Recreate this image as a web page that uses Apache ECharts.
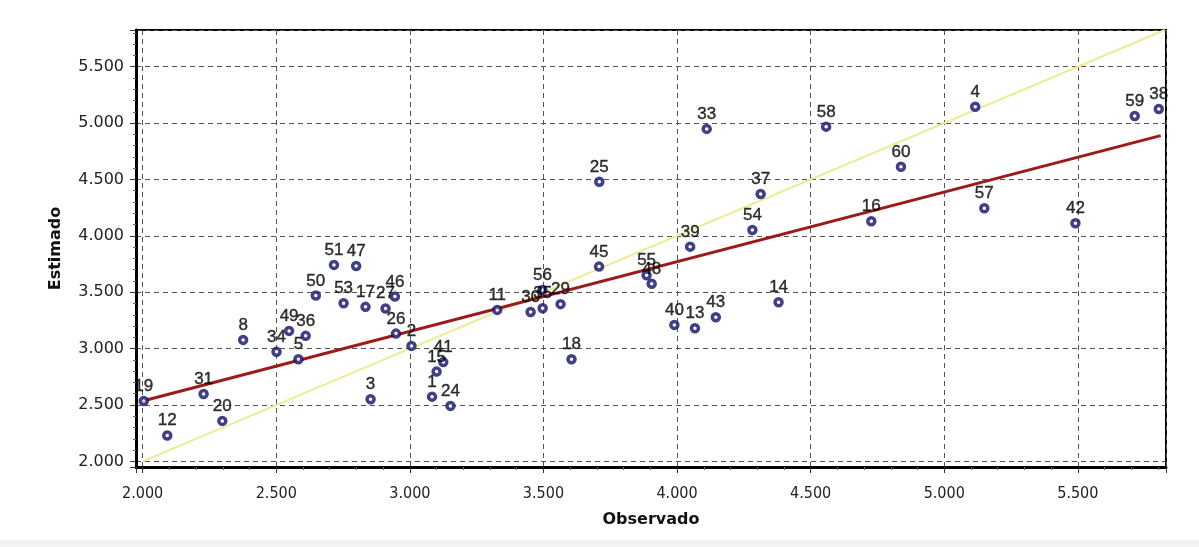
<!DOCTYPE html>
<html>
<head>
<meta charset="utf-8">
<style>
  html, body { margin: 0; padding: 0; background: #fff; }
  #chart { width: 1199px; height: 547px; }
</style>
<script src="https://cdn.jsdelivr.net/npm/echarts@6/dist/echarts.min.js"></script>
</head>
<body>
<div id="chart"></div>
<script>
// point numbers, observed (x) and estimated (y) values
var pointIds = [19, 12, 31, 20, 8, 34, 49, 36, 5, 50, 53, 17, 27, 46, 51, 47, 3, 26, 2, 15,
	41, 1, 24, 11, 30, 56, 35, 29, 18, 45, 55, 48, 40, 13, 43, 39, 54, 25, 33, 58,
	60, 37, 16, 14, 4, 59, 38, 57, 42];
var observado = [2.004, 2.092, 2.228, 2.298, 2.376, 2.501, 2.548, 2.610, 2.583, 2.648,
	2.752, 2.834, 2.909, 2.944, 2.716, 2.799, 2.853, 2.948, 3.006, 3.100,
	3.125, 3.083, 3.152, 3.327, 3.452, 3.496, 3.497, 3.564, 3.605, 3.708,
	3.886, 3.905, 3.990, 4.067, 4.145, 4.049, 4.282, 3.709, 4.111, 4.558,
	4.838, 4.313, 4.727, 4.380, 5.116, 5.713, 5.803, 5.150, 5.491];
var estimado = [2.536, 2.229, 2.598, 2.359, 3.077, 2.971, 3.157, 3.113, 2.906, 3.470,
	3.402, 3.370, 3.355, 3.461, 3.742, 3.733, 2.551, 3.133, 3.024, 2.796,
	2.880, 2.574, 2.492, 3.343, 3.325, 3.520, 3.358, 3.394, 2.906, 3.727,
	3.650, 3.575, 3.210, 3.181, 3.278, 3.904, 4.052, 4.480, 4.948, 4.968,
	4.613, 4.371, 4.129, 3.411, 5.145, 5.063, 5.125, 4.245, 4.112];

// regression line and 1:1 line end points
var ajusteX = [2.0, 5.81];
var ajusteY = [2.535, 4.888];
var identX = [2.0, 5.825];
var identY = [2.0, 5.825];

var myChart = echarts.init(document.getElementById('chart'));

function pairs(xs, ys) {
	var out = [];
	for (var i = 0; i < xs.length; i++) {
		out.push([xs[i], ys[i]]);
	}
	return out;
}

var pontos = [];
for (var i = 0; i < pointIds.length; i++) {
	pontos.push([observado[i], estimado[i], pointIds[i]]);
}

function axisCommon(min, max) {
	return {
		type: 'value',
		min: min,
		max: max,
		splitNumber: 8,
		axisLine: {
			show: true,
			onZero: false,
			lineStyle: { color: '#000', width: 3 }
		},
		axisTick: {
			show: true,
			length: 6,
			lineStyle: { color: '#333', width: 1 }
		},
		minorTick: {
			show: true,
			splitNumber: 5,
			length: 3,
			lineStyle: { color: '#666', width: 1 }
		},
		splitLine: {
			show: true,
			lineStyle: { color: '#555', width: 1, type: [5, 4] }
		},
		axisLabel: {
			showMinLabel: false,
			showMaxLabel: false,
			color: '#222',
			formatter: function (v) { return v.toFixed(3); }
		},
		nameLocation: 'middle',
		nameTextStyle: {
			color: '#111',
			fontFamily: 'DejaVu Sans',
			fontWeight: 'bold',
			fontSize: 16
		}
	};
}

var xAxis = axisCommon(1.975, 5.83);
xAxis.name = 'Observado';
xAxis.nameGap = 45;
xAxis.axisLabel.fontFamily = 'DejaVu Sans Condensed';
xAxis.axisLabel.fontSize = 16;
xAxis.axisLabel.margin = 19;

var yAxis = axisCommon(1.95, 5.825);
yAxis.name = 'Estimado';
yAxis.nameGap = 72;
yAxis.axisLabel.fontFamily = 'DejaVu Sans';
yAxis.axisLabel.fontSize = 16;
yAxis.axisLabel.margin = 12;

var option = {
	backgroundColor: '#fff',
	animation: false,
	grid: {
		left: 136,
		right: 33,
		top: 30,
		bottom: 80,
		show: true,
		backgroundColor: 'transparent',
		borderColor: '#000',
		borderWidth: 2
	},
	xAxis: xAxis,
	yAxis: yAxis,
	graphic: [{
		type: 'rect',
		left: 0,
		top: 540,
		shape: { width: 1199, height: 7 },
		style: { fill: '#f3f3f3' },
		silent: true
	}],
	series: [
		{
			type: 'line',
			data: pairs(identX, identY),
			symbol: 'none',
			z: 1,
			lineStyle: { color: '#ecec94', width: 2 }
		},
		{
			type: 'line',
			data: pairs(ajusteX, ajusteY),
			symbol: 'none',
			z: 2,
			lineStyle: { color: '#9c1a1a', width: 3 }
		},
		{
			type: 'scatter',
			data: pontos,
			z: 3,
			symbol: 'circle',
			symbolSize: 7,
			itemStyle: {
				color: '#fff',
				borderColor: '#10106a',
				borderWidth: 3.5
			},
			label: {
				show: true,
				position: 'top',
				distance: 1,
				color: '#000',
				textBorderColor: '#000',
				textBorderWidth: 0.4,
				fontFamily: 'Liberation Sans',
				fontSize: 17,
				formatter: function (p) { return String(p.data[2]); }
			}
		}
	]
};

myChart.setOption(option);
</script>
</body>
</html>
